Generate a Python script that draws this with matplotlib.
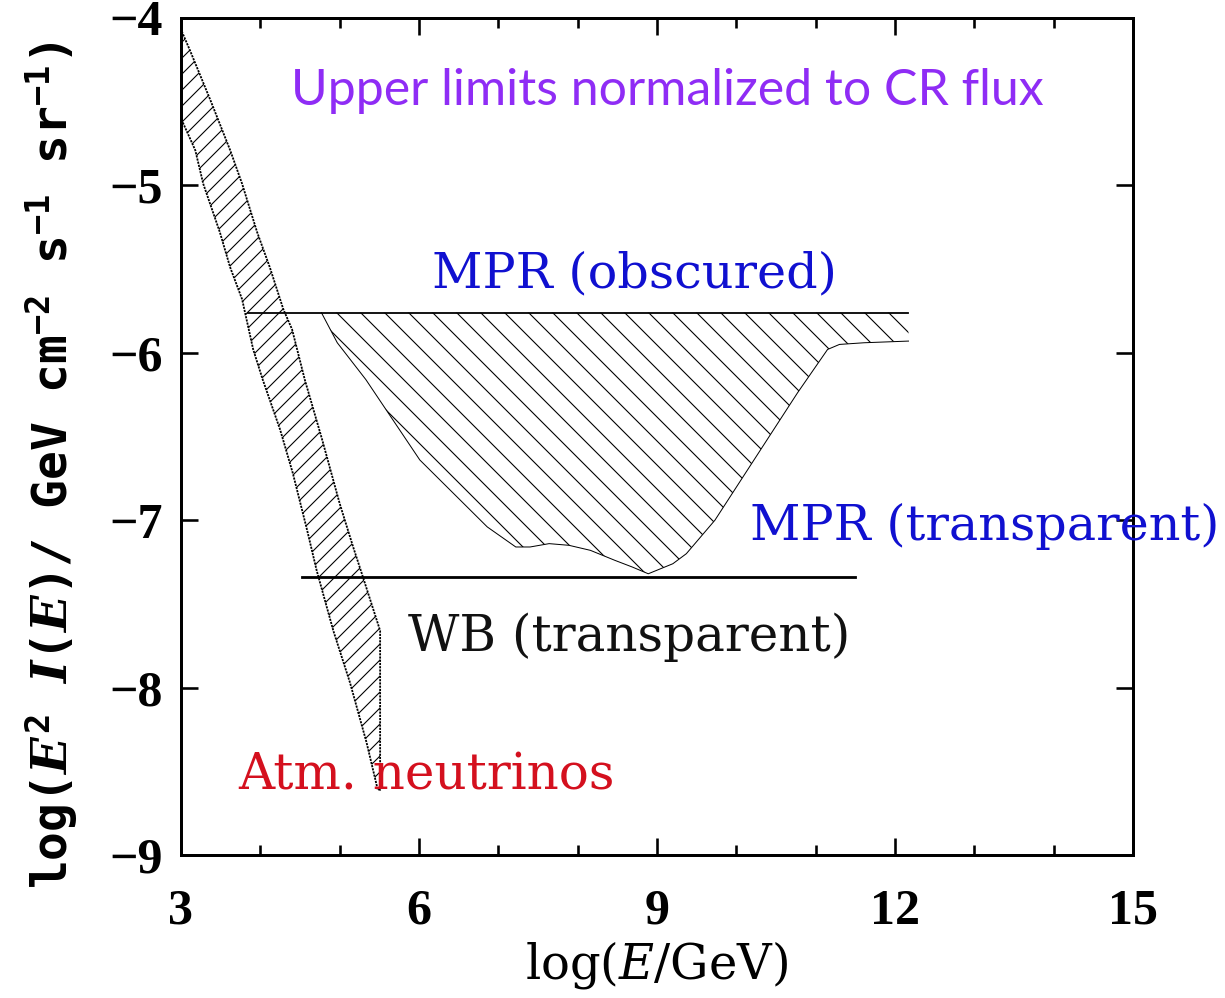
import matplotlib
matplotlib.use("Agg")
import matplotlib.pyplot as plt
from matplotlib.patches import Polygon
from matplotlib.ticker import MultipleLocator

# ---------------- data ----------------
# Atmospheric neutrino band (upper/right edge then lower/left edge)
atm_upper_x = [3.01, 3.11, 3.37, 3.62, 3.77, 3.96, 4.12, 4.29, 4.40, 4.56, 4.78, 5.00, 5.17, 5.28, 5.51, 5.51]
atm_upper_y = [-4.08, -4.19, -4.49, -4.79, -4.99, -5.28, -5.49, -5.74, -5.86, -6.16, -6.52, -6.90, -7.16, -7.32, -7.66, -8.61]
atm_lower_x = [5.48, 5.34, 5.13, 4.92, 4.71, 4.59, 4.41, 4.25, 4.03, 3.91, 3.77, 3.62, 3.49, 3.28, 3.18, 3.01]
atm_lower_y = [-8.61, -8.33, -7.97, -7.66, -7.30, -7.06, -6.72, -6.46, -6.16, -5.98, -5.68, -5.49, -5.28, -4.99, -4.79, -4.61]

# MPR obscured (top line) and MPR transparent (lower boundary)
mpr_obs_x = [3.85, 12.17]
mpr_obs_y = [-5.76, -5.76]
mpr_tr_x = [4.77, 4.97, 5.33, 6.01, 6.86, 7.22, 7.40, 7.64, 7.89, 8.16, 8.47, 8.69, 8.89,
            9.20, 9.37, 9.73, 10.77, 11.15, 11.30, 11.61, 12.17]
mpr_tr_y = [-5.76, -5.94, -6.16, -6.64, -7.04, -7.16, -7.16, -7.14, -7.15, -7.18, -7.24, -7.28, -7.32,
            -7.26, -7.20, -7.00, -6.24, -5.98, -5.95, -5.94, -5.93]

# Waxman-Bahcall bound
wb_x = [4.53, 11.50]
wb_y = [-7.34, -7.34]

x_ticks = [3, 6, 9, 12, 15]
y_ticks = [-9, -8, -7, -6, -5, -4]

# ---------------- figure ----------------
DPI = 144
plt.rcParams['hatch.linewidth'] = 0.55
plt.rcParams['mathtext.fontset'] = 'custom'
plt.rcParams['mathtext.rm'] = 'DejaVu Sans Mono:bold'
plt.rcParams['mathtext.it'] = 'DejaVu Serif:italic:bold'
plt.rcParams['mathtext.bf'] = 'DejaVu Sans Mono:bold'

fig = plt.figure(figsize=(1225 / DPI, 998 / DPI), dpi=DPI)
ax = fig.add_axes([181 / 1225, 1 - 855 / 998, (1133 - 181) / 1225, (855 - 18) / 998])
ax.set_xlim(3, 15)
ax.set_ylim(-9, -4)

# atmospheric band
atm_pts = list(zip(atm_upper_x + atm_lower_x, atm_upper_y + atm_lower_y))
ax.add_patch(Polygon(atm_pts, closed=True, fill=False, hatch='///', edgecolor='black',
                     linewidth=0.9, linestyle=(0, (1.2, 0.6))))

# MPR region between obscured line and transparent curve
mpr_pts = list(zip(mpr_tr_x + mpr_obs_x[::-1], mpr_tr_y + mpr_obs_y[::-1]))
ax.add_patch(Polygon(mpr_pts, closed=True, fill=False, hatch='\\\\', edgecolor='black',
                     linewidth=0))
ax.plot(mpr_tr_x, mpr_tr_y, color='black', linewidth=0.5)
ax.plot(mpr_obs_x, mpr_obs_y, color='black', linewidth=0.9)

# WB line
ax.plot(wb_x, wb_y, color='black', linewidth=1.4)

# ---------------- ticks / spines ----------------
for s in ax.spines.values():
    s.set_linewidth(1.5)
ax.set_xticks(x_ticks)
ax.set_yticks(y_ticks)
ax.xaxis.set_minor_locator(MultipleLocator(1))
ax.set_xticklabels([str(v) for v in x_ticks])
ax.set_yticklabels(['\u2212' + str(-v) for v in y_ticks])
ax.tick_params(which='both', direction='in', top=True, right=True, width=1.3)
ax.tick_params(which='major', length=8.5)
ax.tick_params(which='minor', length=5)
ax.tick_params(axis='x', which='major', pad=17)
ax.tick_params(axis='y', which='major', pad=9)
for lab in ax.get_xticklabels() + ax.get_yticklabels():
    lab.set_fontfamily('Liberation Serif')
    lab.set_fontweight('bold')
    lab.set_fontsize(25)

ax.set_xlabel(r'log($E$/GeV)', fontsize=24, fontfamily='DejaVu Serif', labelpad=2,
              math_fontfamily='dejavuserif')
ax.set_ylabel(r'log($E^2$ $I(E)$/ GeV cm$^{-2}$ s$^{-1}$ sr$^{-1}$)', fontsize=24,
              fontfamily='DejaVu Sans Mono', fontweight='bold')
ax.yaxis.set_label_coords(-0.106, 0.466)

# ---------------- annotations ----------------
ax.text(9.13, -4.52, 'Upper limits normalized to CR flux', color='#8F2CF5',
        fontsize=25, fontfamily='Lato', ha='center', va='baseline')
ax.text(6.16, -5.61, 'MPR (obscured)', color='#1010D0', fontsize=24.6,
        fontfamily='DejaVu Serif', ha='left', va='baseline')
ax.text(10.17, -7.12, 'MPR (transparent)', color='#1010D0', fontsize=24.6,
        fontfamily='DejaVu Serif', ha='left', va='baseline', clip_on=False)
ax.text(5.86, -7.78, 'WB (transparent)', color='#111111', fontsize=25,
        fontfamily='DejaVu Serif', ha='left', va='baseline')
ax.text(3.72, -8.61, 'Atm. neutrinos', color='#D4101E', fontsize=25,
        fontfamily='DejaVu Serif', ha='left', va='baseline')

fig.savefig('out.png', dpi=DPI)
